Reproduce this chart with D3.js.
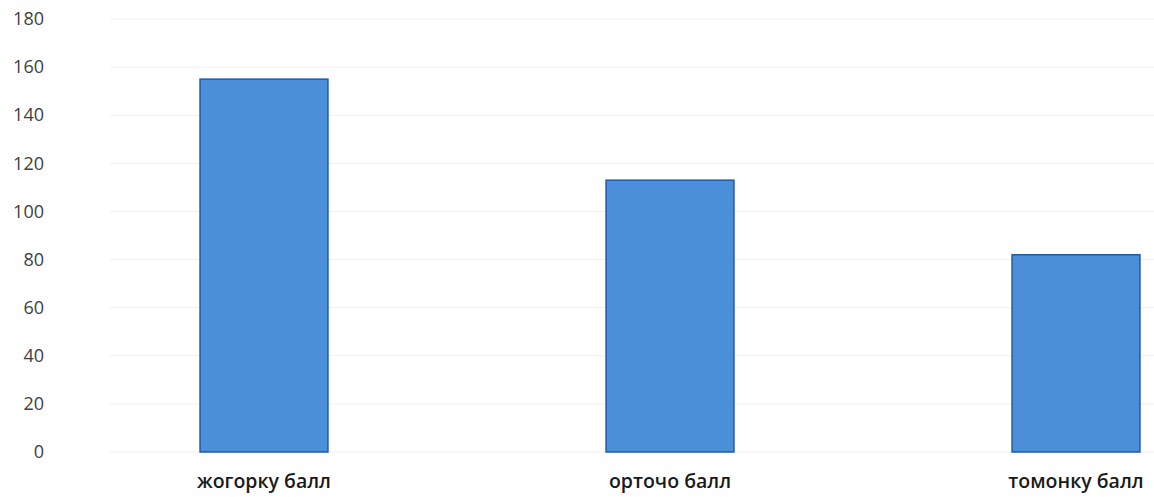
<!DOCTYPE html>
<html>
<head>
<meta charset="utf-8">
<script src="https://cdn.jsdelivr.net/npm/d3@7"></script>
<style>
  body { margin: 0; background: #fff; }
  svg { display: block; }
</style>
</head>
<body>
<div id="grafico"></div>
<script>
const categorias = ["жогорку балл", "орточо балл", "томонку балл"];
const valores = [155, 113, 82];
const ticksY = [0, 20, 40, 60, 80, 100, 120, 140, 160, 180];

const ancho = 1154, alto = 497;

const svg = d3.select("#grafico")
    .append("svg")
    .attr("width", ancho)
    .attr("height", alto);

// Escalas (el área de la gráfica se sale por la derecha, como en la foto)
const x = d3.scaleBand()
    .domain(categorias)
    .range([61, 1279])
    .paddingInner(0.685)
    .paddingOuter(0.3425);

const y = d3.scaleLinear()
    .domain([0, 180])
    .range([452, 19]);

// Líneas de cuadrícula
svg.append("g")
    .selectAll("line")
    .data(ticksY)
    .enter()
    .append("line")
    .attr("x1", 110)
    .attr("x2", ancho)
    .attr("y1", d => y(d))
    .attr("y2", d => y(d))
    .attr("stroke", "#f0f0f0")
    .attr("stroke-width", 1);

// Eje Y
const ejeY = svg.append("g")
    .attr("transform", "translate(44,0)")
    .call(d3.axisLeft(y).tickValues(ticksY).tickSize(0).tickPadding(0));
ejeY.select(".domain").remove();
ejeY.selectAll("text")
    .attr("font-family", "Open Sans, sans-serif")
    .attr("font-size", 18)
    .attr("fill", "#404040");

// Barras
svg.selectAll("rect.barra")
    .data(valores)
    .enter()
    .append("rect")
    .attr("class", "barra")
    .attr("x", (d, i) => x(categorias[i]))
    .attr("y", d => y(d))
    .attr("width", x.bandwidth())
    .attr("height", d => y(0) - y(d))
    .attr("fill", "#4a8fd8")
    .attr("stroke", "#1f5ca8")
    .attr("stroke-width", 1.5);

// Eje X
const ejeX = svg.append("g")
    .attr("transform", `translate(0, ${y(0)})`)
    .call(d3.axisBottom(x).tickSize(0).tickPadding(22));
ejeX.select(".domain").remove();
ejeX.selectAll("text")
    .attr("font-family", "Open Sans, sans-serif")
    .attr("font-size", 19.5)
    .attr("font-weight", 600)
    .attr("fill", "#1a1a1a");
</script>
</body>
</html>
